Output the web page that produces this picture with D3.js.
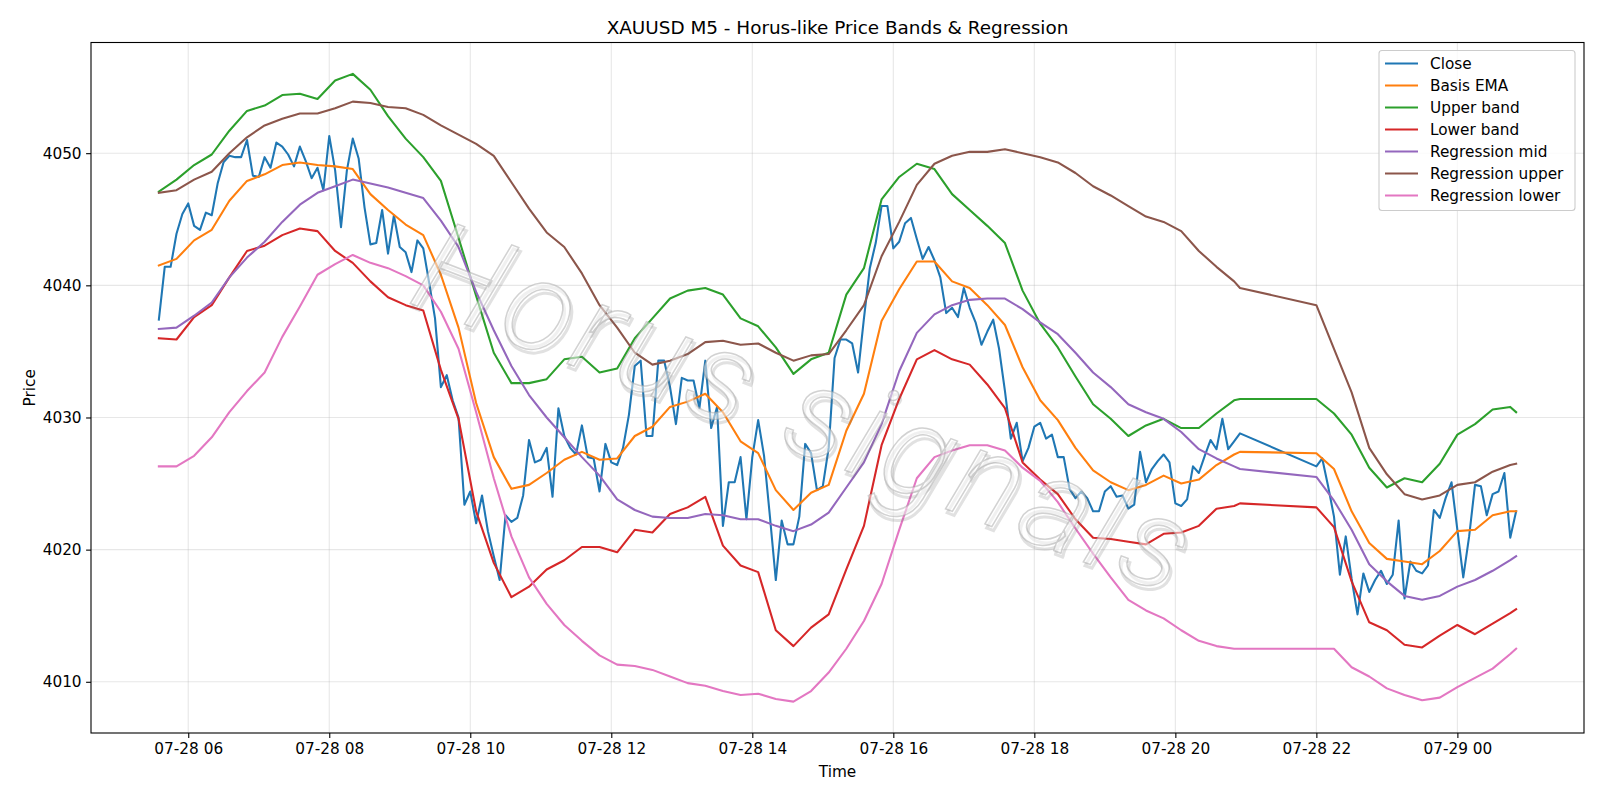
<!DOCTYPE html>
<html><head><meta charset="utf-8">
<script src="https://cdn.jsdelivr.net/npm/d3@7"></script>
<style>body{margin:0;background:#fff}svg{display:block}text{font-family:"DejaVu Sans",sans-serif;fill:#000}</style>
</head><body><svg id="c" width="1600" height="800"></svg>
<script>
// ---------- data ----------
const sessions = [["2025-07-28T05:35", 185], ["2025-07-28T22:00", 35]]; // M5 bars per session
const closeValues = [
4037.4,4041.4,4041.4,4043.9,4045.4,4046.2,4044.5,4044.2,4045.5,4045.3,
4047.7,4049.3,4049.8,4049.7,4049.7,4051.0,4048.3,4048.2,4049.7,4048.9,
4050.8,4050.5,4049.9,4049.0,4050.5,4049.4,4048.1,4048.9,4047.2,4051.3,
4048.7,4044.4,4048.7,4051.1,4049.6,4045.9,4043.1,4043.2,4045.7,4042.4,
4045.3,4042.9,4042.5,4041.0,4043.4,4042.8,4040.2,4037.5,4032.3,4033.2,
4031.3,4030.0,4023.4,4024.4,4022.0,4024.1,4021.4,4019.5,4017.7,4022.6,
4022.1,4022.4,4024.1,4028.3,4026.6,4026.8,4027.7,4024.0,4030.7,4028.6,
4027.7,4027.2,4029.4,4027.0,4026.9,4024.4,4028.0,4026.6,4026.4,4027.7,
4030.2,4033.9,4034.3,4028.6,4028.6,4034.3,4034.3,4032.3,4029.5,4033.0,
4032.8,4032.8,4030.7,4034.3,4029.2,4030.8,4021.8,4025.1,4025.1,4027.0,
4022.3,4027.0,4029.8,4027.1,4022.5,4017.7,4022.2,4020.4,4020.4,4022.5,
4028.0,4027.3,4024.5,4024.8,4027.7,4034.5,4035.9,4035.9,4035.6,4033.4,
4037.5,4041.3,4043.2,4046.0,4046.0,4042.8,4043.3,4044.7,4045.1,4043.5,
4042.0,4042.9,4041.9,4040.6,4037.9,4038.3,4037.6,4039.8,4038.3,4037.2,
4035.5,4036.5,4037.4,4035.2,4032.0,4028.4,4029.6,4026.7,4027.7,4029.3,
4029.6,4028.4,4028.7,4027.0,4027.0,4024.6,4023.9,4024.4,4023.9,4022.9,
4022.9,4024.4,4024.8,4024.0,4024.1,4023.1,4023.4,4027.4,4025.1,4026.1,
4026.7,4027.2,4026.6,4023.5,4023.3,4023.8,4026.3,4025.8,4027.1,4028.3,
4027.6,4029.9,4027.6,4028.2,4028.8,
4026.3,4026.9,4024.8,4022.5,4018.1,4021.0,4017.8,4015.1,4018.2,4016.8,
4017.7,4018.4,4017.4,4018.1,4022.2,4016.3,4019.1,4018.4,4018.2,4018.8,
4023.0,4022.4,4023.9,4025.1,4021.5,4017.9,4021.0,4024.9,4024.8,4022.6,
4024.2,4024.4,4025.8,4020.9,4022.9];

const bandTimes = ["05:35","05:50","06:05","06:20","06:35","06:50","07:05","07:20","07:35","07:50",
"08:05","08:20","08:35","08:50","09:05","09:20","09:35","09:50","10:05","10:20",
"10:35","10:50","11:05","11:20","11:35","11:50","12:05","12:20","12:35","12:50",
"13:05","13:20","13:35","13:50","14:05","14:20","14:35","14:50","15:05","15:20",
"15:35","15:50","16:05","16:20","16:35","16:50","17:05","17:20","17:35","17:50",
"18:05","18:20","18:35","18:50","19:05","19:20","19:35","19:50","20:05","20:20",
"20:35","20:50","20:55","22:00","22:15","22:30","22:45","23:00","23:15","23:30",
"23:45","00:00","00:15","00:30","00:45","00:50"];

const basisEMA = [4041.5,4042.0,4043.4,4044.2,4046.4,4047.9,4048.4,4049.1,4049.3,4049.1,
4049.0,4048.8,4046.9,4045.7,4044.6,4043.8,4040.8,4036.8,4031.1,4027.0,
4024.6,4024.9,4025.8,4026.8,4027.4,4026.8,4026.9,4028.6,4029.3,4030.8,
4031.2,4031.8,4030.4,4028.2,4027.3,4024.5,4023.0,4024.3,4024.9,4029.0,
4031.8,4037.3,4039.7,4041.8,4041.8,4040.3,4039.8,4038.5,4037.0,4033.8,
4031.3,4029.8,4027.7,4026.0,4025.1,4024.5,4024.9,4025.6,4025.0,4025.3,
4026.4,4027.2,4027.4,
4027.3,4026.1,4022.9,4020.5,4019.3,4019.1,4018.9,4019.9,4021.4,4021.5,4022.6,4022.9,4022.9];

const upperBand = [4047.1,4048.0,4049.1,4049.9,4051.7,4053.2,4053.6,4054.4,4054.5,4054.1,
4055.5,4056.0,4054.8,4052.8,4051.1,4049.7,4047.9,4043.6,4039.2,4034.9,
4032.6,4032.6,4032.9,4034.4,4034.6,4033.4,4033.7,4036.0,4037.5,4039.0,
4039.6,4039.8,4039.3,4037.5,4036.9,4035.3,4033.3,4034.4,4034.9,4039.3,
4041.3,4046.5,4048.2,4049.2,4048.8,4046.9,4045.7,4044.5,4043.2,4039.6,
4037.1,4035.3,4033.1,4031.0,4029.9,4028.6,4029.4,4029.9,4029.2,4029.2,
4030.3,4031.3,4031.4,
4031.4,4030.3,4028.7,4026.2,4024.7,4025.4,4025.1,4026.5,4028.7,4029.5,4030.6,4030.8,4030.4];

const lowerBand = [4036.0,4035.9,4037.6,4038.5,4040.6,4042.6,4043.0,4043.8,4044.3,4044.1,
4042.6,4041.7,4040.3,4039.1,4038.5,4038.1,4033.6,4029.9,4022.9,4019.0,
4016.4,4017.2,4018.5,4019.2,4020.2,4020.2,4019.8,4021.5,4021.3,4022.7,
4023.2,4024.0,4020.3,4018.8,4018.3,4013.9,4012.7,4014.1,4015.1,4018.5,
4021.8,4027.9,4031.4,4034.4,4035.1,4034.4,4034.0,4032.5,4030.7,4026.6,
4025.3,4024.2,4022.3,4020.9,4020.8,4020.6,4020.4,4021.2,4021.3,4021.8,
4023.1,4023.3,4023.5,
4023.2,4021.7,4017.6,4014.5,4013.9,4012.8,4012.6,4013.5,4014.3,4013.6,4014.4,4015.2,4015.5];

const regMid = [4036.7,4036.8,4037.7,4038.7,4040.6,4042.1,4043.3,4044.8,4046.1,4047.0,
4047.5,4048.0,4047.7,4047.4,4047.0,4046.6,4044.9,4042.9,4039.5,4036.6,
4033.9,4031.7,4030.0,4028.5,4027.0,4025.6,4023.8,4023.0,4022.5,4022.4,
4022.4,4022.7,4022.6,4022.3,4022.3,4021.8,4021.4,4021.9,4022.8,4024.7,
4026.6,4029.5,4033.5,4036.4,4037.8,4038.5,4038.9,4039.0,4039.0,4038.2,
4037.2,4036.3,4034.9,4033.4,4032.3,4031.0,4030.4,4029.9,4028.9,4027.6,
4026.9,4026.3,4026.1,
4025.5,4023.7,4021.5,4018.9,4017.6,4016.5,4016.2,4016.5,4017.2,4017.7,4018.4,4019.2,4019.5];

const regUpper = [4047.0,4047.2,4048.0,4048.6,4050.0,4051.2,4052.1,4052.6,4053.0,4053.0,
4053.4,4053.9,4053.8,4053.5,4053.4,4052.9,4052.1,4051.4,4050.7,4049.8,
4047.8,4045.8,4044.0,4042.9,4040.9,4038.5,4036.8,4034.9,4034.0,4034.3,
4034.8,4035.7,4035.8,4035.5,4035.6,4034.9,4034.3,4034.7,4034.8,4036.6,
4038.5,4042.2,4044.8,4047.6,4049.2,4049.8,4050.1,4050.1,4050.3,4050.0,
4049.7,4049.3,4048.5,4047.5,4046.8,4046.0,4045.2,4044.8,4044.1,4042.6,
4041.4,4040.3,4039.8,
4038.5,4035.2,4031.9,4027.7,4025.7,4024.2,4023.8,4024.1,4024.9,4025.1,4025.9,4026.4,4026.5];

const regLower = [4026.3,4026.3,4027.1,4028.5,4030.4,4032.0,4033.4,4036.1,4038.4,4040.8,
4041.6,4042.3,4041.7,4041.3,4040.7,4040.0,4038.0,4035.2,4030.4,4025.4,
4021.0,4017.9,4015.9,4014.3,4013.1,4012.0,4011.3,4011.2,4010.9,4010.4,
4009.9,4009.7,4009.3,4009.0,4009.1,4008.7,4008.5,4009.3,4010.7,4012.5,
4014.6,4017.4,4021.5,4025.4,4027.0,4027.5,4027.9,4027.9,4027.5,4026.2,
4025.2,4023.6,4021.6,4019.7,4017.9,4016.2,4015.4,4014.8,4013.9,4013.1,
4012.7,4012.5,4012.5,
4012.5,4012.5,4011.1,4010.4,4009.5,4009.0,4008.6,4008.8,4009.6,4010.3,4011.0,4012.1,4012.5];

const yTickValues = [4010, 4020, 4030, 4040, 4050];
const seriesNames = ["Close","Basis EMA","Upper band","Lower band","Regression mid","Regression upper","Regression lower"];
const seriesColors = ["#1f77b4","#ff7f0e","#2ca02c","#d62728","#9467bd","#8c564b","#e377c2"];
const titleText = "XAUUSD M5 - Horus-like Price Bands & Regression";
const watermarkText = "Horus signals";

// ---------- build ----------
const parseFull = d3.utcParse("%Y-%m-%dT%H:%M");
const closeTimes = [];
sessions.forEach(([s, n]) => { const t0 = parseFull(s).getTime(); for (let k = 0; k < n; k++) closeTimes.push(new Date(t0 + k * 5 * 60000)); });
const bandDates = bandTimes.map(s => { const h = +s.slice(0, 2); return parseFull((h < 5 ? "2025-07-29T" : "2025-07-28T") + s); });

const closeData = closeValues.map((v, i) => ({ t: closeTimes[i], v }));
const bandSeries = [basisEMA, upperBand, lowerBand, regMid, regUpper, regLower].map(arr => arr.map((v, i) => ({ t: bandDates[i], v })));
const allSeries = [closeData, ...bandSeries];

const M = { left: 91, right: 1584, top: 42.5, bottom: 733 };
const svg = d3.select("#c");

const tExt = d3.extent(closeTimes);
const tSpan = tExt[1] - tExt[0];
const x = d3.scaleUtc().domain([new Date(+tExt[0] - 0.05 * tSpan), new Date(+tExt[1] + 0.05 * tSpan)]).range([M.left, M.right]);
const allV = allSeries.flat().map(d => d.v);
const vMin = d3.min(allV), vMax = d3.max(allV), vSpan = vMax - vMin;
const y = d3.scaleLinear().domain([vMin - 0.05 * vSpan, vMax + 0.05 * vSpan]).range([M.bottom, M.top]);

const xTicks = x.ticks(d3.utcHour.every(2));
const fmt = d3.utcFormat("%m-%d %H");

// grid
const grid = svg.append("g");
grid.selectAll(".gx").data(xTicks).join("line")
  .attr("x1", d => x(d)).attr("x2", d => x(d)).attr("y1", M.top).attr("y2", M.bottom)
  .attr("stroke", "#b0b0b0").attr("stroke-opacity", 0.3).attr("stroke-width", 1.1);
grid.selectAll(".gy").data(yTickValues).join("line")
  .attr("x1", M.left).attr("x2", M.right).attr("y1", d => y(d)).attr("y2", d => y(d))
  .attr("stroke", "#b0b0b0").attr("stroke-opacity", 0.3).attr("stroke-width", 1.1);

// clip
svg.append("clipPath").attr("id", "clip").append("rect")
  .attr("x", M.left).attr("y", M.top).attr("width", M.right - M.left).attr("height", M.bottom - M.top);

const line = d3.line().x(d => x(d.t)).y(d => y(d.v));
const lines = svg.append("g").attr("clip-path", "url(#clip)");
allSeries.forEach((s, i) => {
  lines.append("path").attr("d", line(s)).attr("fill", "none")
    .attr("stroke", seriesColors[i]).attr("stroke-width", 2.08)
    .attr("stroke-linejoin", "round").attr("stroke-linecap", "square");
});

// axes
const xAxis = d3.axisBottom(x).tickValues(xTicks).tickFormat(fmt).tickSize(4.9).tickPadding(4.5);
const gx = svg.append("g").attr("transform", `translate(0,${M.bottom})`).call(xAxis);
const yAxis = d3.axisLeft(y).tickValues(yTickValues).tickFormat(d3.format("d")).tickSize(4.9).tickPadding(4.5);
const gy = svg.append("g").attr("transform", `translate(${M.left},0)`).call(yAxis);
[gx, gy].forEach(g => {
  g.select(".domain").remove();
  g.selectAll(".tick line").attr("stroke", "#000").attr("stroke-width", 1.1);
  g.selectAll(".tick text").attr("font-size", 15.3).attr("font-family", "DejaVu Sans").attr("fill", "#000");
});
gx.selectAll(".tick text").attr("dy", "0.76em");

// spines
svg.append("rect").attr("x", M.left).attr("y", M.top).attr("width", M.right - M.left).attr("height", M.bottom - M.top)
  .attr("fill", "none").attr("stroke", "#000").attr("stroke-width", 1.1);

// labels
svg.append("text").attr("x", (M.left + M.right) / 2).attr("y", 34).attr("text-anchor", "middle")
  .attr("font-size", 18.4).text(titleText);
svg.append("text").attr("x", (M.left + M.right) / 2).attr("y", 777).attr("text-anchor", "middle")
  .attr("font-size", 15.3).text("Time");
svg.append("text").attr("transform", `translate(30,${(M.top + M.bottom) / 2}) rotate(-90)`)
  .attr("text-anchor", "middle").attr("dy", "0.35em").attr("font-size", 15.3).text("Price");

// watermark (soft shadow + light outlined thin text)
const wmFont = "Roboto, 'Open Sans', 'DejaVu Sans', sans-serif";
const wm = svg.append("g").attr("transform", "translate(803,418) rotate(21)");
[[3, 3, "none", "rgba(120,120,120,0.22)", 3], [0, 0, "rgba(255,255,255,0.5)", "rgba(165,165,165,0.5)", 1.5]]
  .forEach(([dx, dy, fill, stroke, sw]) => {
    wm.append("text").attr("x", dx).attr("y", dy)
      .attr("text-anchor", "middle").attr("dominant-baseline", "middle")
      .style("font-family", wmFont).attr("font-size", 128).attr("font-style", "italic").attr("font-weight", 300)
      .attr("letter-spacing", 6)
      .style("fill", fill).attr("stroke", stroke).attr("stroke-width", sw)
      .text(watermarkText);
  });

// legend
const L = { x: 1379, y: 50.5, w: 196, h: 160, row: 22 };
const lg = svg.append("g");
lg.append("rect").attr("x", L.x).attr("y", L.y).attr("width", L.w).attr("height", L.h).attr("rx", 3)
  .attr("fill", "#fff").attr("fill-opacity", 0.8).attr("stroke", "#cccccc").attr("stroke-width", 1.1);
seriesNames.forEach((n, i) => {
  const cy = L.y + 13 + i * L.row;
  lg.append("line").attr("x1", L.x + 6).attr("x2", L.x + 39).attr("y1", cy).attr("y2", cy)
    .attr("stroke", seriesColors[i]).attr("stroke-width", 2.08);
  lg.append("text").attr("x", L.x + 51).attr("y", cy).attr("dy", "0.36em").attr("font-size", 15.3).text(n);
});
</script></body></html>
